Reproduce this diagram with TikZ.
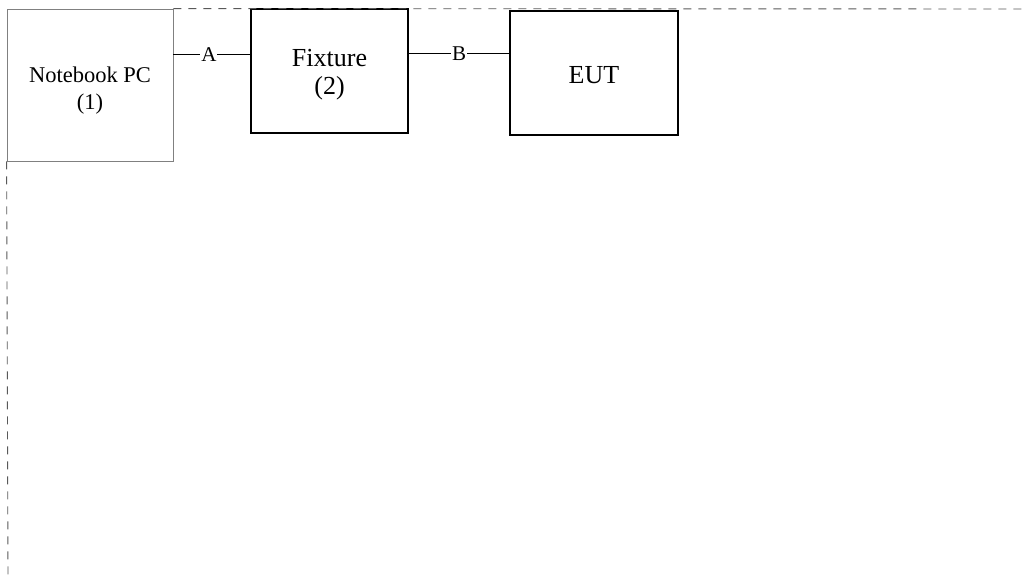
\documentclass[tikz,border=0pt]{standalone}
\usepackage{fontspec}
\setmainfont{Liberation Serif}
\usetikzlibrary{positioning}

\newcommand\boxtext[2]{\raisebox{#1}[\height][\depth]{\begin{tabular}{@{}c@{}}#2\end{tabular}}}

\begin{document}
\begin{tikzpicture}[x=1pt, y=-1pt]

\tikzset{
  unit/.style={draw, line width=1.4pt, align=center, inner sep=0pt, font=\fontsize{26}{28}\selectfont},
  host/.style={draw=gray, line width=0.8pt, align=center, inner sep=0pt, font=\fontsize{22.5}{27}\selectfont},
  lbl/.style={fill=white, inner sep=1pt, font=\fontsize{21}{24}\selectfont},
  fence/.style={black!65, line width=0.9pt, dash pattern=on 8pt off 7pt}
}

  \useasboundingbox (0,0) rectangle (1023,575);

  \node[host, minimum width=166pt, minimum height=152pt] (pc) at (90,85) {\boxtext{-6pt}{Notebook PC\\(1)}};
  \node[unit, minimum width=157pt, minimum height=124pt] (fix) at (329.5,71) {\boxtext{-4pt}{Fixture\\(2)}};
  \node[unit, minimum width=168pt, minimum height=124pt] (eut) at (594,73) {\boxtext{-5pt}{EUT}};

  % cables
  \draw[line width=1pt] (pc.east |- 0,55) -- node[lbl, xshift=-3pt] {A} (fix.west |- 0,55);
  \draw[line width=1pt] (fix.east |- 0,54) -- node[lbl] {B} (eut.west |- 0,54);

  % test area
  \draw[fence] (pc.north east) -- (1023,9);
  \draw[fence] (pc.south west) -- (8,575);

\end{tikzpicture}
\end{document}
